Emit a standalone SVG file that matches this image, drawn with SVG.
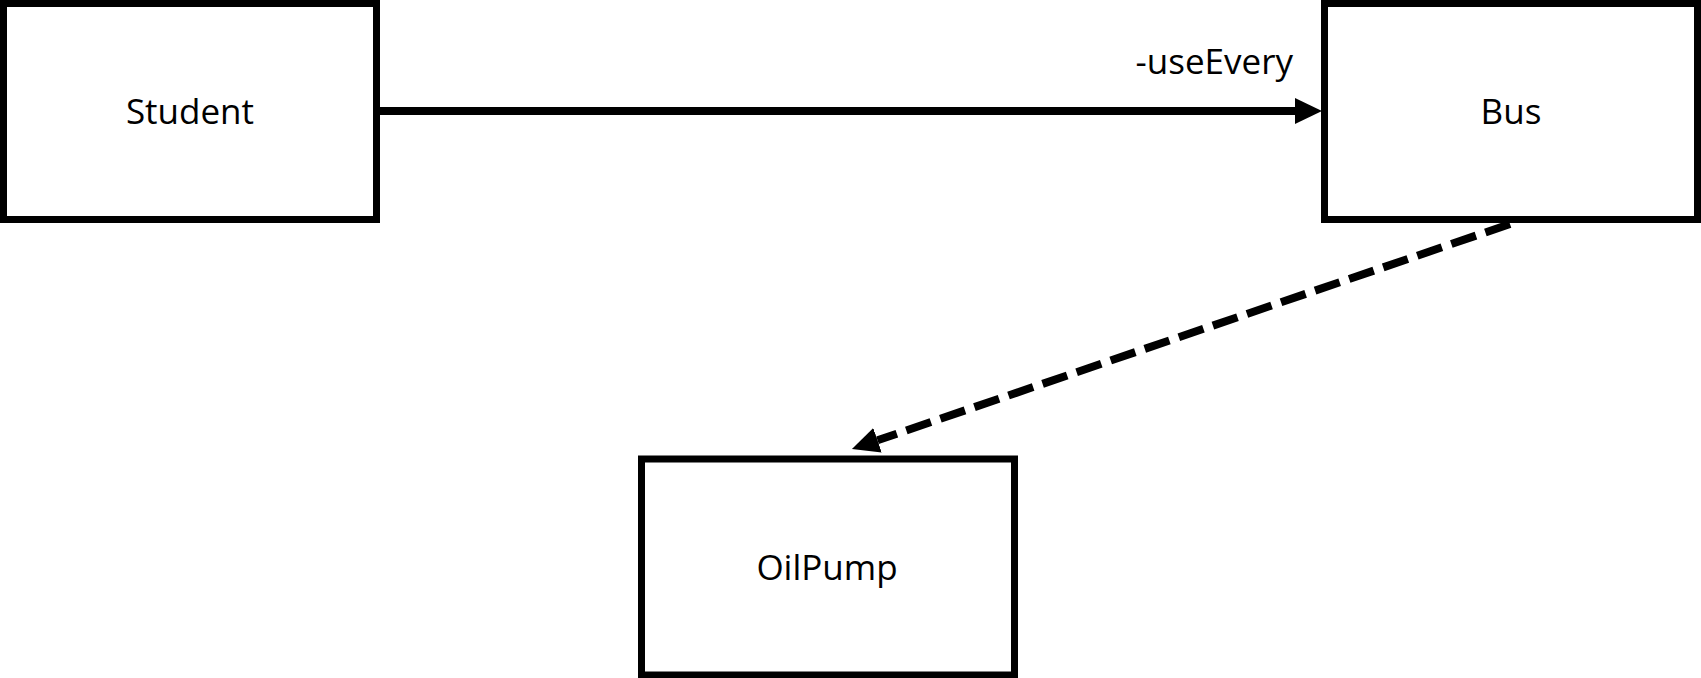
<svg xmlns="http://www.w3.org/2000/svg" width="1701" height="678" viewBox="0 0 1701 678">
  <style>
    .box { fill: #ffffff; stroke: #000000; stroke-width: 7; }
    .label { font-family: "Open Sans", "Noto Sans", "Liberation Sans", sans-serif; font-size: 35px; fill: #000000; }
    .conn { fill: none; stroke: #000000; stroke-width: 8; }
    .dashed { stroke-dasharray: 26 10; }
  </style>
  <defs>
    <marker id="arrow" markerUnits="userSpaceOnUse" markerWidth="27" markerHeight="27" refX="0" refY="13" orient="auto" viewBox="0 0 27 26">
      <path d="M0,0 L27,13 L0,26 z" fill="#000000"/>
    </marker>
  </defs>
  <rect width="1701" height="678" fill="#ffffff"/>
  <g id="Student">
    <rect class="box" x="3.5" y="3.5" width="373" height="216"/>
    <text class="label" x="190" y="124" text-anchor="middle">Student</text>
  </g>
  <g id="Bus">
    <rect class="box" x="1324.5" y="3.5" width="373" height="216"/>
    <text class="label" x="1511" y="124" text-anchor="middle">Bus</text>
  </g>
  <g id="OilPump">
    <rect class="box" x="641.5" y="459" width="373" height="216"/>
    <text class="label" x="827" y="580" text-anchor="middle">OilPump</text>
  </g>
  <g id="connectors">
    <line class="conn" x1="380" y1="111" x2="1295" y2="111" marker-end="url(#arrow)"/>
    <text class="label" x="1293" y="74" text-anchor="end">-useEvery</text>
    <line class="conn dashed" x1="1510" y1="224" x2="877.5" y2="440.3" marker-end="url(#arrow)"/>
  </g>
</svg>
